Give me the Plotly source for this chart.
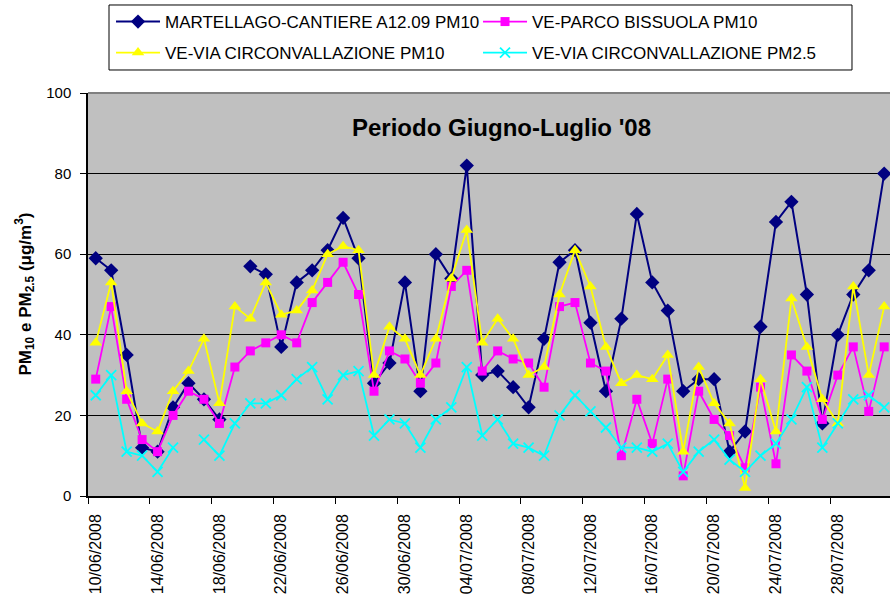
import pandas as pd
import plotly.graph_objects as go

# ---- data ----
start_date = "2008-06-10"
n_days = 52
dates = pd.date_range(start_date, periods=n_days, freq="D")

martellago = [59, 56, 35, 12, 11, 22, 28, 24, 19, None,
              57, 55, 37, 53, 56, 61, 69, 59, 28, 33,
              53, 26, 60, 54, 82, 30, 31, 27, 22, 39,
              58, 61, 43, 26, 44, 70, 53, 46, 26, 29,
              29, 11, 16, 42, 68, 73, 50, 18, 40, 50,
              56, 80]
bissuola = [29, 47, 24, 14, 11, 20, 26, 24, 18, 32,
            36, 38, 40, 38, 48, 53, 58, 50, 26, 36,
            34, 28, 33, 52, 56, 31, 36, 34, 33, 27,
            47, 48, 33, 31, 10, 24, 13, 29, 5, 26,
            19, 15, 7, 27, 8, 35, 31, 19, 30, 37,
            21, 37]
circ_pm10 = [38, 53, 26, 18, 16, 26, 31, 39, 23, 47,
             44, 53, 45, 46, 51, 60, 62, 61, 30, 42,
             39, 30, 39, 54, 66, 38, 44, 39, 30, 32,
             50, 61, 52, 37, 28, 30, 29, 35, 11, 32,
             23, 18, 2, 29, 16, 49, 37, 24, 18, 52,
             30, 47]
circ_pm25 = [25, 30, 11, 10, 6, 12, None, 14, 10, 18,
             23, 23, 25, 29, 32, 24, 30, 31, 15, 19,
             18, 12, 19, 22, 32, 15, 19, 13, 12, 10,
             20, 25, 21, 17, 12, 12, 11, 13, 6, 11,
             14, 9, 6, 10, 13, 19, 27, 12, 18, 24,
             25, 22]

series_names = ["MARTELLAGO-CANTIERE A12.09 PM10", "VE-PARCO BISSUOLA PM10",
                "VE-VIA CIRCONVALLAZIONE PM10", "VE-VIA CIRCONVALLAZIONE PM2.5"]

tick_labels = ["10/06/2008", "14/06/2008", "18/06/2008", "22/06/2008", "26/06/2008",
               "30/06/2008", "04/07/2008", "08/07/2008", "12/07/2008", "16/07/2008",
               "20/07/2008", "24/07/2008", "28/07/2008"]
y_ticks = [0, 20, 40, 60, 80, 100]

title_text = "Periodo Giugno-Luglio '08"
y_title = "<b>PM<sub>10</sub> e PM<sub>2.5</sub> (μg/m<sup>3</sup>)</b>"

# ---- styles ----
FONT = "Arial, Liberation Sans, sans-serif"
styles = [
    dict(color="#000080", symbol="diamond", size=11, lw=2, legend="legend"),
    dict(color="#FF00FF", symbol="square", size=9, lw=1.8, legend="legend"),
    dict(color="#FFFF00", symbol="triangle-up", size=11, lw=1.8, legend="legend2"),
    dict(color="#00FFFF", symbol="x-thin", size=10, lw=1.8, legend="legend2"),
]

fig = go.Figure()
for name, vals, st in zip(series_names, [martellago, bissuola, circ_pm10, circ_pm25], styles):
    marker = dict(symbol=st["symbol"], size=st["size"], color=st["color"])
    if st["symbol"] == "x-thin":
        marker["line"] = dict(color=st["color"], width=1.8)
    else:
        marker["line"] = dict(width=0)
    fig.add_trace(go.Scatter(
        x=dates, y=vals, name=name, mode="lines+markers",
        line=dict(color=st["color"], width=st["lw"]),
        marker=marker, connectgaps=False, legend=st["legend"],
    ))

tick_dates = pd.to_datetime(tick_labels, format="%d/%m/%Y")
half = pd.Timedelta(hours=12)
x0 = dates[0] - half
x1 = x0 + pd.Timedelta(days=51.876)
minor_ticks = [d - half for d in tick_dates]

legend_common = dict(
    orientation="h", xanchor="left", yanchor="top",
    xref="paper", yref="paper",
    bgcolor="rgba(0,0,0,0)", borderwidth=0,
    font=dict(size=17, family=FONT, color="black"),
    entrywidth=308, entrywidthmode="pixels", itemwidth=44,
    traceorder="normal",
)

fig.update_layout(
    template="none",
    width=890, height=596,
    margin=dict(l=88, r=0, t=93, b=100, autoexpand=False),
    paper_bgcolor="white", plot_bgcolor="#C0C0C0",
    font=dict(family=FONT, color="black"),
    showlegend=True,
    legend=dict(x=0.0287, y=1.2208, **legend_common),
    legend2=dict(x=0.0287, y=1.1439, **legend_common),
    xaxis=dict(
        type="date", range=[x0, x1], automargin=False,
        tickmode="array", tickvals=tick_dates, ticktext=tick_labels,
        tickangle=-90, ticks="", ticklabelstandoff=10,
        tickfont=dict(size=16, family=FONT, color="black"),
        showgrid=False, zeroline=False,
        showline=True, linecolor="black", linewidth=1.5,
        minor=dict(tickmode="array", tickvals=minor_ticks, ticks="outside",
                   ticklen=6, tickcolor="black", tickwidth=1, showgrid=False),
    ),
    yaxis=dict(
        range=[0, 100], tickmode="array", tickvals=y_ticks, automargin=False,
        ticks="outside", ticklen=6, tickcolor="black", ticklabelstandoff=6,
        tickfont=dict(size=15, family=FONT, color="black"),
        showgrid=True, gridcolor="black", gridwidth=1,
        zeroline=False, showline=True, linecolor="black", linewidth=1.5,
    ),
    annotations=[
        dict(text="<b>" + title_text + "</b>", xref="paper", yref="paper",
             x=0.5156, y=0.915, xanchor="center", yanchor="middle",
             showarrow=False, font=dict(size=24, family=FONT, color="black")),
        dict(text=y_title, xref="paper", yref="paper", x=0, y=0.5,
             xanchor="center", yanchor="middle", xshift=-63, textangle=-90,
             showarrow=False, font=dict(size=17, family=FONT, color="black")),
    ],
    shapes=[
        dict(type="line", xref="paper", yref="paper", x0=0, x1=1, y0=1, y1=1,
             line=dict(color="#808080", width=2)),
        dict(type="rect", xref="paper", yref="paper",
             x0=0.0262, x1=0.9526, y0=1.0571, y1=1.2184,
             fillcolor="white", line=dict(color="black", width=1), layer="above"),
    ],
)

fig.write_html("out.html", config={"displayModeBar": False},
               post_script="document.body.style.margin='0px';")
